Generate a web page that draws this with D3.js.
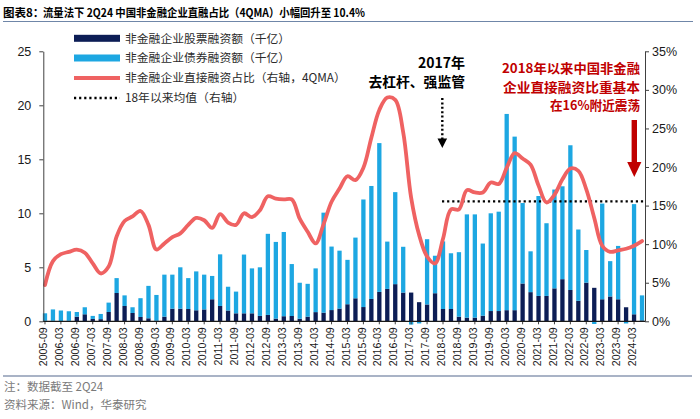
<!DOCTYPE html>
<html><head><meta charset="utf-8">
<script src="https://cdn.jsdelivr.net/npm/d3@7"></script>
<style>
html,body{margin:0;padding:0;background:#fff;}
svg{display:block;}
</style></head><body>
<svg id="chart" width="700" height="419"></svg>
<script>
// ---------------- data ----------------
const categories = [
 "2005-09","2005-12",
 "2006-03","2006-06","2006-09","2006-12",
 "2007-03","2007-06","2007-09","2007-12",
 "2008-03","2008-06","2008-09","2008-12",
 "2009-03","2009-06","2009-09","2009-12",
 "2010-03","2010-06","2010-09","2010-12",
 "2011-03","2011-06","2011-09","2011-12",
 "2012-03","2012-06","2012-09","2012-12",
 "2013-03","2013-06","2013-09","2013-12",
 "2014-03","2014-06","2014-09","2014-12",
 "2015-03","2015-06","2015-09","2015-12",
 "2016-03","2016-06","2016-09","2016-12",
 "2017-03","2017-06","2017-09","2017-12",
 "2018-03","2018-06","2018-09","2018-12",
 "2019-03","2019-06","2019-09","2019-12",
 "2020-03","2020-06","2020-09","2020-12",
 "2021-03","2021-06","2021-09","2021-12",
 "2022-03","2022-06","2022-09","2022-12",
 "2023-03","2023-06","2023-09","2023-12",
 "2024-03","2024-06"
];
// 非金融企业股票融资额（千亿）
const equity = [
 0.05,0.05,0.03,0.05,0.43,0.65,0.22,0.2,0.86,2.62,
 1.42,0.77,0.4,0.28,0.06,0.43,1.17,1.17,1.14,1.02,
 1.1,2.04,1.42,1.0,0.74,0.74,0.74,0.5,0.59,0.25,
 0.47,0.49,0.24,0.43,0.85,0.8,1.04,1.18,1.58,2.13,
 1.32,2.07,2.72,3.0,3.44,2.66,2.66,1.77,1.56,2.6,
 1.14,1.14,0.43,0.34,0.34,0.52,0.95,0.95,1.03,1.03,
 3.5,2.7,2.35,2.35,3.05,3.9,2.9,1.9,3.58,3.1,
 2.04,2.3,2.04,1.3,0.65,0.08
];
// 非金融企业债券融资额（千亿）
const bond = [
 0.69,1.05,0.97,0.88,0.43,0.65,0.28,0.48,0.87,1.38,
 0.98,0.53,1.74,3.0,2.38,3.89,3.15,3.83,2.86,3.6,
 3.22,2.16,4.78,2.2,2.01,5.44,4.16,4.5,7.51,7.1,
 7.8,4.81,3.33,3.04,4.05,9.26,5.88,5.36,4.11,5.62,
 9.96,10.46,13.78,4.38,8.52,4.24,-0.3,-0.2,6.04,3.47,
 6.26,5.16,5.97,9.56,9.56,6.68,9.05,9.2,18.17,16.07,
 7.45,3.78,9.25,6.73,9.15,8.6,13.4,6.6,3.02,-0.25,
 8.86,3.27,4.94,-0.2,10.2,2.32
];
// 非金融企业直接融资占比（右轴，4QMA，%）
const ratio = [
 4.7,7.8,8.7,9.0,9.3,8.9,7.5,6.2,7.1,11.0,
 13.0,13.6,14.3,12.5,9.3,10.1,10.9,11.4,12.5,13.4,
 13.1,12.1,13.9,12.8,12.5,14.0,13.5,14.4,16.2,15.9,
 15.8,15.8,13.3,11.6,10.1,12.6,15.5,17.2,18.8,18.3,
 19.9,23.8,27.4,29.0,28.7,24.5,16.0,11.2,8.4,7.5,
 10.7,14.5,14.5,17.0,16.7,16.7,18.0,17.8,19.9,21.8,
 21.1,20.3,17.6,15.4,16.4,18.4,19.8,19.5,17.1,13.4,
 9.8,9.0,9.2,9.4,9.8,10.4
];
const avgStart = "2018-03";
const leftTicks = [0,5,10,15,20,25];
const rightTicks = [0,5,10,15,20,25,30,35];
const legendLabels = [
 "非金融企业股票融资额（千亿）",
 "非金融企业债券融资额（千亿）",
 "非金融企业直接融资占比（右轴，4QMA）",
 "18年以来均值（右轴）"
];
const titleLead = "图表8：";
const titleText = "流量法下 2Q24 中国非金融企业直融占比（4QMA）小幅回升至 10.4%";
const noteLines = ["注：数据截至 2Q24", "资料来源：Wind，华泰研究"];
const annoBlack = ["2017年", "去杠杆、强监管"];
const annoRed = ["2018年以来中国非金融", "企业直接融资比重基本", "在16%附近震荡"];

// ---------------- drawing ----------------
const C_DARK = "#0c1d55", C_LIGHT = "#1da7e2", C_RED = "#ef6262", C_DRED = "#c00000";
const CJK = "'Noto Sans CJK SC','Noto Sans',sans-serif";
const NUM = "'Liberation Sans',Arial,sans-serif";

const svg = d3.select("#chart");
const yBase = 321.3, yTop = 51.3, axL = 43.3, axR = 645;

const x = d3.scaleBand().domain(categories).range([41, 646]).paddingInner(0.46).paddingOuter(0.23);
const yL = d3.scaleLinear().domain([0, 25]).range([yBase, yTop]);
const yR = d3.scaleLinear().domain([0, 35]).range([yBase, yTop]);
const cx = c => x(c) + x.bandwidth() / 2;

// title
svg.append("text").attr("x", 3).attr("y", 16.5).attr("font-family", CJK).attr("font-weight", 700)
  .attr("font-size", 11.5).attr("fill", "#000").text(titleLead);
svg.append("text").attr("x", 43).attr("y", 16.5).attr("font-family", CJK).attr("font-weight", 700)
  .attr("font-size", 11.5).attr("fill", "#000").attr("textLength", 322).attr("lengthAdjust", "spacingAndGlyphs").text(titleText);
svg.append("line").attr("x1", 3).attr("x2", 693).attr("y1", 21.5).attr("y2", 21.5)
  .attr("stroke", "#6f86a8").attr("stroke-width", 1.2);

// stacked bars
const rows = categories.map((c, i) => ({cat: c, equity: equity[i], bond: bond[i]}));
const series = d3.stack().keys(["equity", "bond"]).offset(d3.stackOffsetDiverging)(rows);
const colors = {equity: C_DARK, bond: C_LIGHT};
svg.append("g").selectAll("g").data(series).join("g").attr("fill", d => colors[d.key])
  .selectAll("rect").data(d => d).join("rect")
  .attr("x", d => x(d.data.cat)).attr("width", x.bandwidth())
  .attr("y", d => yL(Math.max(d[0], d[1])))
  .attr("height", d => Math.abs(yL(d[0]) - yL(d[1])));

// average line since 2018
const iStart = categories.indexOf(avgStart);
const avgVal = d3.mean(ratio.slice(iStart));
svg.append("line").attr("x1", cx(avgStart) - 1).attr("x2", axR).attr("y1", yR(avgVal)).attr("y2", yR(avgVal))
  .attr("stroke", "#000").attr("stroke-width", 2.4).attr("stroke-dasharray", "2.2,2.9");

// ratio line
const line = d3.line().x((d, i) => cx(categories[i])).y(d => yR(d)).curve(d3.curveCatmullRom.alpha(0.5));
svg.append("path").datum(ratio).attr("d", line).attr("fill", "none")
  .attr("stroke", C_RED).attr("stroke-width", 3.8).attr("stroke-linejoin", "round").attr("stroke-linecap", "round");

// axes
const gL = svg.append("g").attr("transform", `translate(${axL},0)`)
  .call(d3.axisLeft(yL).tickValues(leftTicks).tickSize(4).tickSizeOuter(0).tickPadding(8));
const gR = svg.append("g").attr("transform", `translate(${axR},0)`)
  .call(d3.axisRight(yR).tickValues(rightTicks).tickSize(4).tickSizeOuter(0).tickPadding(3).tickFormat(d => d + "%"));
[gL, gR].forEach(g => {
  g.select(".domain").attr("stroke", "#404040");
  g.selectAll(".tick line").attr("stroke", "#404040");
  g.selectAll(".tick text").attr("font-family", NUM).attr("font-size", 12.5).attr("fill", "#1a1a1a");
});
const xTicks = categories.filter((d, i) => i % 2 === 0);
const gX = svg.append("g").attr("transform", `translate(0,${yBase})`)
  .call(d3.axisBottom(x).tickValues(xTicks).tickSize(3).tickSizeOuter(0));
gX.select(".domain").remove();
gX.selectAll(".tick line").attr("stroke", "#404040");
gX.selectAll(".tick text").attr("font-family", NUM).attr("font-size", 10.6).attr("fill", "#1a1a1a")
  .attr("transform", "rotate(-90)").attr("x", -6).attr("y", 0).attr("dy", "0.2em").style("text-anchor", "end");
svg.append("line").attr("x1", axL).attr("x2", axR).attr("y1", yBase).attr("y2", yBase)
  .attr("stroke", "#1a1a1a").attr("stroke-width", 1.2);

// legend
const lg = svg.append("g");
const legY = [38.3, 58, 78, 98];
legendLabels.forEach((t, i) => {
  const y = legY[i];
  if (i < 2) lg.append("rect").attr("x", 74).attr("y", y - 3.5).attr("width", 46).attr("height", 7).attr("fill", i === 0 ? C_DARK : C_LIGHT);
  else if (i === 2) lg.append("line").attr("x1", 74).attr("x2", 120).attr("y1", y).attr("y2", y).attr("stroke", C_RED).attr("stroke-width", 4);
  else lg.append("line").attr("x1", 74).attr("x2", 120).attr("y1", y).attr("y2", y).attr("stroke", "#000").attr("stroke-width", 2.4).attr("stroke-dasharray", "2.2,2.9");
  lg.append("text").attr("x", 125).attr("y", y + 4.2).attr("font-family", CJK).attr("font-size", 11.8).attr("fill", "#2a2a2a").text(t);
});

// annotation: 2017
svg.append("text").attr("x", 465).attr("y", 67.5).attr("text-anchor", "end").attr("font-family", CJK)
  .attr("font-weight", 700).attr("font-size", 14).attr("fill", "#000").text(annoBlack[0]);
svg.append("text").attr("x", 465).attr("y", 87).attr("text-anchor", "end").attr("font-family", CJK)
  .attr("font-weight", 700).attr("font-size", 13.8).attr("fill", "#000").text(annoBlack[1]);
svg.append("line").attr("x1", 442.3).attr("x2", 442.3).attr("y1", 98).attr("y2", 139)
  .attr("stroke", "#000").attr("stroke-width", 2.4).attr("stroke-dasharray", "2,2.4");
svg.append("path").attr("d", "M437.5,138.5 L447.1,138.5 L442.3,148 Z").attr("fill", "#000");

// annotation: red
const redY = [72.5, 91.5, 109.5];
const redW = [138, 137, 90];
annoRed.forEach((t, i) => {
  svg.append("text").attr("x", 640).attr("y", redY[i]).attr("text-anchor", "end").attr("font-family", CJK)
    .attr("font-weight", 700).attr("font-size", 12.8).attr("fill", C_DRED)
    .attr("textLength", redW[i]).attr("lengthAdjust", "spacingAndGlyphs").text(t);
});
svg.append("rect").attr("x", 631.6).attr("y", 120).attr("width", 5.4).attr("height", 43).attr("fill", C_DRED);
svg.append("path").attr("d", "M627.2,162 L641.4,162 L634.3,177 Z").attr("fill", C_DRED);

// bottom rule & notes
svg.append("line").attr("x1", 3).attr("x2", 692).attr("y1", 376).attr("y2", 376)
  .attr("stroke", "#8c9ab3").attr("stroke-width", 1.6);
svg.append("text").attr("x", 4).attr("y", 391).attr("font-family", CJK).attr("font-size", 11.5).attr("fill", "#7a7a7a").text(noteLines[0]);
svg.append("text").attr("x", 4).attr("y", 409).attr("font-family", CJK).attr("font-size", 11.5).attr("fill", "#7a7a7a").text(noteLines[1]);
</script>
</body></html>
